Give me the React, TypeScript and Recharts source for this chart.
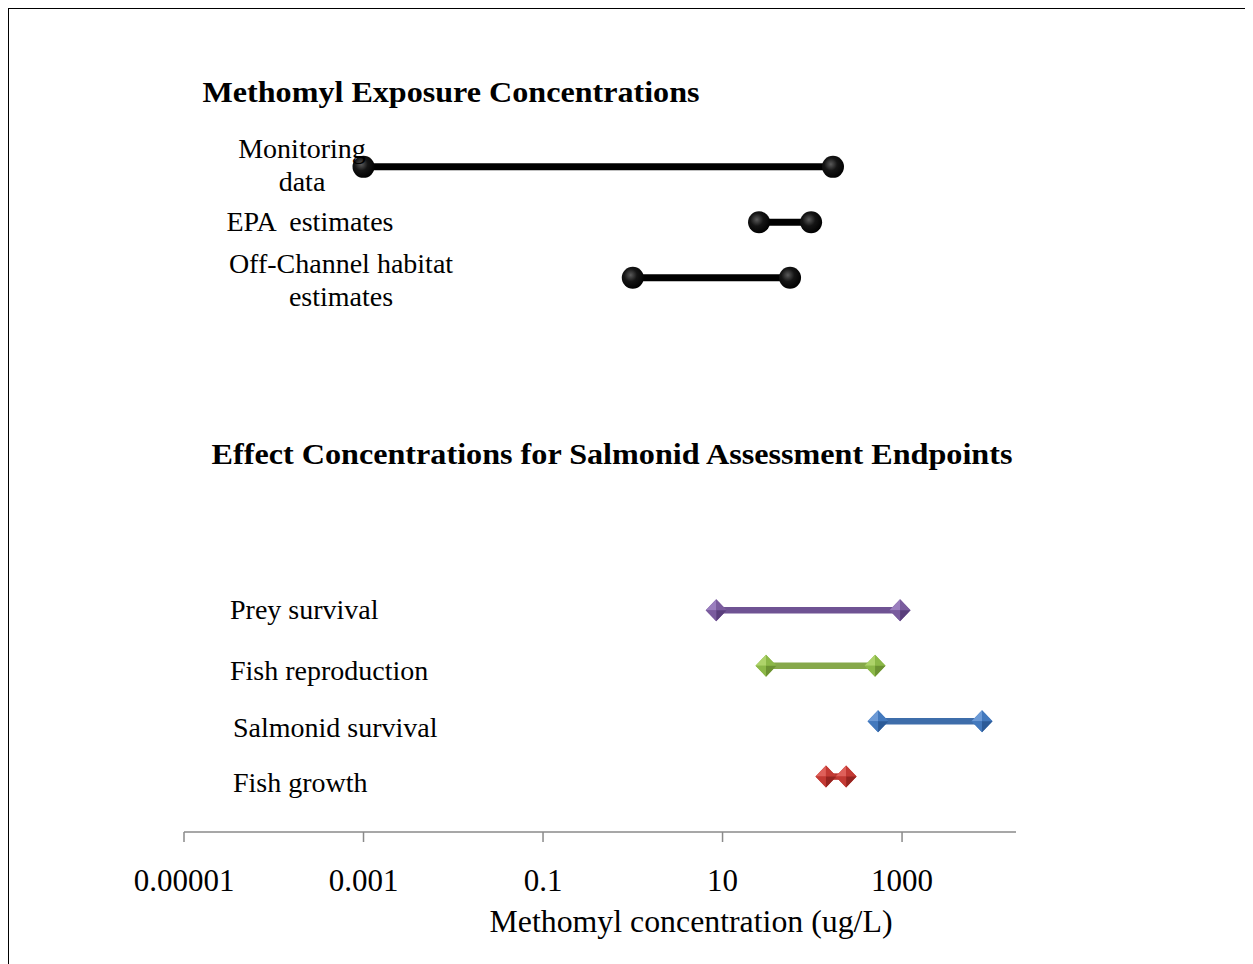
import React from 'react';
import { ScatterChart, Scatter, XAxis, YAxis } from 'recharts';

// ---------- data ----------
const CATEGORIES = [
  'Monitoring data',
  'EPA estimates',
  'Off-Channel habitat estimates',
  'Prey survival',
  'Fish reproduction',
  'Salmonid survival',
  'Fish growth',
];
const LABEL_LINES = [
  ['Monitoring', 'data'],
  ['EPA  estimates'],
  ['Off-Channel habitat', 'estimates'],
  ['Prey survival'],
  ['Fish reproduction'],
  ['Salmonid survival'],
  ['Fish growth'],
];
const ROW_POSITION = [0, 1, 2, 8, 9, 10, 11];
const LOW_VALUES = [0.001, 25.5, 1, 8.5, 30.5, 540, 142];
const HIGH_VALUES = [170, 97, 56.5, 950, 500, 7780, 238];
const X_TICKS = [0.00001, 0.001, 0.1, 10, 1000];
const TITLE_TOP = 'Methomyl Exposure Concentrations';
const TITLE_BOTTOM = 'Effect Concentrations for Salmonid Assessment Endpoints';
const X_LABEL = 'Methomyl concentration (ug/L)';

// ---------- styles ----------
const SERIES_STYLE = [
  { kind: 'circle', color: '#000000' },
  { kind: 'circle', color: '#000000' },
  { kind: 'circle', color: '#000000' },
  { kind: 'diamond', color: '#7A5C9E', light: '#9A7EBE', dark: '#5A3F7C', line: '#6F5393' },
  { kind: 'diamond', color: '#8CB848', light: '#AED36A', dark: '#6C9232', line: '#86A84A' },
  { kind: 'diamond', color: '#4379BD', light: '#6C9AD6', dark: '#2C5B98', line: '#3E6DAA' },
  { kind: 'diamond', color: '#C33A34', light: '#DE605A', dark: '#962420', line: '#B8352F' },
];
const LABEL_LAYOUT = [
  { anchor: 'middle', x: 302, dys: [-9, 24] },
  { anchor: 'middle', x: 310, dys: [9] },
  { anchor: 'middle', x: 341, dys: [-5, 28] },
  { anchor: 'start', x: 230, dys: [9] },
  { anchor: 'start', x: 230, dys: [14] },
  { anchor: 'start', x: 233, dys: [16] },
  { anchor: 'start', x: 233, dys: [15] },
];

const OFF = 9; // chart origin in page coords
const FONT = '"Liberation Serif", "Times New Roman", serif';

const seriesData = CATEGORIES.map((name, i) => [
  { x: LOW_VALUES[i], y: ROW_POSITION[i], name },
  { x: HIGH_VALUES[i], y: ROW_POSITION[i], name },
]);

const CircleShape = (props: any) => {
  const { cx, cy } = props;
  if (cx == null || cy == null) return null;
  return <circle cx={cx} cy={cy} r={11} fill="url(#ballGrad)" />;
};

const makeDiamond = (st: any) => (props: any) => {
  const { cx, cy } = props;
  if (cx == null || cy == null) return null;
  const w = 10.5;
  const h = 11;
  const t = `${cx},${cy - h}`;
  const r = `${cx + w},${cy}`;
  const b = `${cx},${cy + h}`;
  const l = `${cx - w},${cy}`;
  const c = `${cx},${cy}`;
  return (
    <g>
      <polygon points={`${t} ${r} ${b} ${l}`} fill={st.color} />
      <polygon points={`${l} ${t} ${c}`} fill={st.light} />
      <polygon points={`${t} ${r} ${c}`} fill={st.color} />
      <polygon points={`${r} ${b} ${c}`} fill={st.dark} />
      <polygon points={`${b} ${l} ${c}`} fill={st.color} />
    </g>
  );
};

const YTick = (props: any) => {
  const { y, payload } = props;
  const idx = ROW_POSITION.indexOf(payload.value);
  if (idx < 0) return null;
  const lay = LABEL_LAYOUT[idx];
  return (
    <g>
      {LABEL_LINES[idx].map((line, k) => (
        <text
          key={k}
          x={lay.x - OFF}
          y={y + lay.dys[k]}
          textAnchor={lay.anchor as any}
          fontFamily={FONT}
          fontSize={28}
          fill="#000"
          style={{ whiteSpace: 'pre' }}
        >
          {line}
        </text>
      ))}
    </g>
  );
};

const XTick = (props: any) => {
  const { x, payload } = props;
  return (
    <text
      x={x}
      y={891 - OFF}
      textAnchor="middle"
      fontFamily={FONT}
      fontSize={31}
      fill="#000"
    >
      {String(payload.value)}
    </text>
  );
};

export default function App() {
  return (
    <div
      style={{
        position: 'relative',
        marginLeft: -1,
        marginTop: -1,
        width: 1244,
        height: 955,
        borderTop: '2px solid #000',
        borderLeft: '2px solid #000',
        background: '#fff',
      }}
    >
      <ScatterChart
        width={1244}
        height={955}
        margin={{ top: 47, right: 237, bottom: 0, left: 0 }}
      >
        <defs>
          <radialGradient id="ballGrad" cx="40%" cy="38%" r="65%">
            <stop offset="0%" stopColor="#5a5a5a" />
            <stop offset="45%" stopColor="#151515" />
            <stop offset="100%" stopColor="#000" />
          </radialGradient>
        </defs>
        <XAxis
          type="number"
          dataKey="x"
          scale="log"
          domain={[0.00001, 18600]}
          ticks={X_TICKS}
          allowDataOverflow
          height={132}
          stroke="#868686"
          axisLine={{ stroke: '#8a8a8a', strokeWidth: 1.5 }}
          tickLine={{ stroke: '#8a8a8a', strokeWidth: 1.5 }}
          tickSize={10}
          tick={<XTick />}
          label={(p: any) => {
            const vb = p.viewBox || {};
            return (
              <text
                x={vb.x + vb.width / 2 + 91}
                y={932 - OFF}
                textAnchor="middle"
                fontFamily={FONT}
                fontSize={31}
                textLength={403}
                lengthAdjust="spacingAndGlyphs"
                fill="#000"
              >
                {X_LABEL}
              </text>
            );
          }}
        />
        <YAxis
          type="number"
          dataKey="y"
          domain={[-2, 12]}
          reversed
          ticks={ROW_POSITION}
          width={175}
          axisLine={false}
          tickLine={false}
          tick={<YTick />}
          interval={0}
        />
        {seriesData.map((d, i) => {
          const st: any = SERIES_STYLE[i];
          const isCircle = st.kind === 'circle';
          return (
            <Scatter
              key={CATEGORIES[i]}
              name={CATEGORIES[i]}
              data={d}
              isAnimationActive={false}
              line={{ stroke: isCircle ? '#000' : st.line, strokeWidth: isCircle ? 7 : 6.5 }}
              lineType="joint"
              shape={isCircle ? CircleShape : makeDiamond(st)}
            />
          );
        })}
        <text
          x={451 - OFF}
          y={102 - OFF}
          textAnchor="middle"
          fontFamily={FONT}
          fontWeight="bold"
          fontSize={30}
          textLength={497}
          lengthAdjust="spacingAndGlyphs"
          fill="#000"
        >
          {TITLE_TOP}
        </text>
        <text
          x={612 - OFF}
          y={464 - OFF}
          textAnchor="middle"
          fontFamily={FONT}
          fontWeight="bold"
          fontSize={30}
          textLength={801}
          lengthAdjust="spacingAndGlyphs"
          fill="#000"
        >
          {TITLE_BOTTOM}
        </text>
      </ScatterChart>
    </div>
  );
}
